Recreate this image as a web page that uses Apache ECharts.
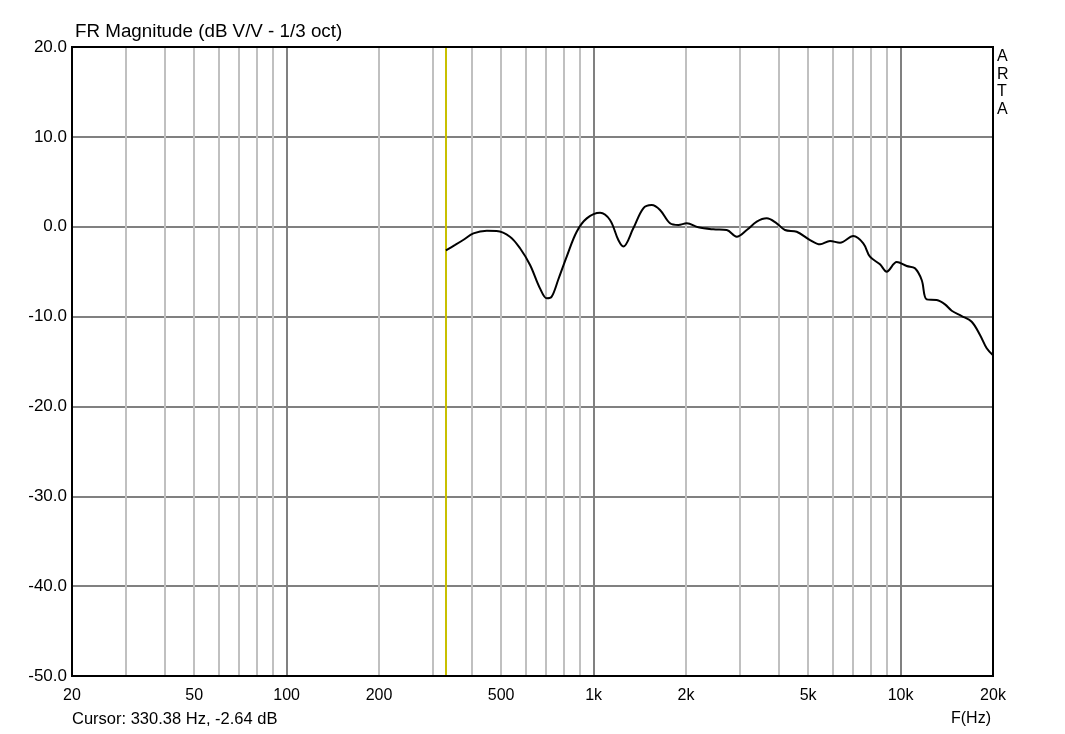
<!DOCTYPE html>
<html>
<head>
<meta charset="utf-8">
<script src="https://cdn.jsdelivr.net/npm/echarts@6/dist/echarts.min.js"></script>
<style>
html,body{margin:0;padding:0;background:#fff;}
#c{width:1065px;height:734px;}
</style>
</head>
<body>
<div id="c"></div>
<script>
// Data
const freqs = [330.38, 354, 376, 406, 449, 483, 534, 576, 621, 669, 704, 730, 767, 818, 881, 950, 1050, 1131, 1204, 1250, 1347, 1452, 1546, 1646, 1774, 1888, 2011, 2194, 2454, 2714, 2926, 3154, 3400, 3664, 3948, 4202, 4589, 5070, 5466, 5890, 6348, 7016, 7560, 7948, 8570, 9010, 9716, 10472, 11140, 11716, 12162, 13110, 13952, 14674, 15814, 17046, 18144, 19078, 20000];
const mags = [-2.64, -2.03, -1.48, -0.74, -0.45, -0.48, -1.11, -2.4, -4.26, -6.86, -7.97, -7.8, -5.9, -3.3, -0.56, 0.93, 1.56, 0.75, -1.48, -2.2, -0.18, 2.05, 2.41, 1.86, 0.38, 0.19, 0.38, -0.07, -0.29, -0.37, -1.11, -0.37, 0.56, 0.93, 0.38, -0.37, -0.56, -1.48, -1.96, -1.59, -1.78, -1.04, -1.85, -3.34, -4.19, -5.0, -3.93, -4.37, -4.63, -5.93, -8.08, -8.16, -8.64, -9.35, -9.94, -10.57, -12.05, -13.53, -14.3];
const majorFreqs = [100, 1000, 10000];
const minorFreqs = [30, 40, 50, 60, 70, 80, 90, 200, 300, 400, 500, 600, 700, 800, 900, 2000, 3000, 4000, 5000, 6000, 7000, 8000, 9000];
const xTickLabels = [[20, '20'], [50, '50'], [100, '100'], [200, '200'], [500, '500'], [1000, '1k'], [2000, '2k'], [5000, '5k'], [10000, '10k'], [20000, '20k']];
const cursorFreq = 330.38;
const cursorDb = -2.64;

const FONT = '"Liberation Sans", Arial, sans-serif';
const chart = echarts.init(document.getElementById('c'), null, {renderer: 'canvas'});

const gridLines = [];
minorFreqs.forEach(f => gridLines.push({xAxis: f, lineStyle: {color: '#c0c0c0', width: 2, type: 'solid'}}));
majorFreqs.forEach(f => gridLines.push({xAxis: f, lineStyle: {color: '#808080', width: 2, type: 'solid'}}));

const labelMap = {};
xTickLabels.forEach(p => { labelMap[p[0]] = p[1]; });

chart.setOption({
  animation: false,
  backgroundColor: '#fff',
  grid: {left: 72, right: 72, top: 47, bottom: 58, show: true, borderColor: '#000', borderWidth: 2, backgroundColor: 'transparent', z: 10},
  xAxis: {
    type: 'log', logBase: 10, min: 20, max: 20000,
    axisLine: {show: false}, axisTick: {show: false}, splitLine: {show: false}, minorSplitLine: {show: false},
    axisLabel: {
      customValues: xTickLabels.map(p => p[0]),
      formatter: v => labelMap[Math.round(v)] !== undefined ? labelMap[Math.round(v)] : '',
      color: '#000', fontSize: 16, fontFamily: FONT, margin: 12, showMinLabel: true, showMaxLabel: true
    }
  },
  yAxis: {
    type: 'value', min: -50, max: 20, interval: 10,
    axisLine: {show: false}, axisTick: {show: false},
    splitLine: {show: true, lineStyle: {color: '#808080', width: 2}},
    axisLabel: {formatter: v => v.toFixed(1), color: '#000', fontSize: 17, fontFamily: FONT, margin: 5}
  },
  series: [
    {
      type: 'line', data: [], silent: true,
      markLine: {silent: true, symbol: ['none', 'none'], label: {show: false}, animation: false, data: gridLines}
    },
    {
      type: 'line', data: [], silent: true,
      markLine: {silent: true, symbol: ['none', 'none'], label: {show: false}, animation: false,
        data: [{xAxis: cursorFreq, lineStyle: {color: '#c8c000', width: 2, type: 'solid'}}]}
    },
    {
      type: 'line', showSymbol: false, smooth: 0.35, z: 5,
      lineStyle: {color: '#000', width: 2},
      data: freqs.map((f, i) => [f, mags[i]])
    }
  ],
  graphic: [
    {type: 'text', left: 75, top: 22, style: {text: 'FR Magnitude (dB V/V - 1/3 oct)', font: '18.8px ' + FONT, fill: '#000'}},
    {type: 'text', left: 997, top: 48, style: {text: 'A\nR\nT\nA', font: '16px ' + FONT, fill: '#000', lineHeight: 17.5}},
    {type: 'text', left: 72, top: 711, style: {text: 'Cursor: ' + cursorFreq.toFixed(2) + ' Hz, ' + cursorDb.toFixed(2) + ' dB', font: '16.5px ' + FONT, fill: '#000'}},
    {type: 'text', left: 951, top: 711, style: {text: 'F(Hz)', font: '16px ' + FONT, fill: '#000'}}
  ]
});
</script>
</body>
</html>
